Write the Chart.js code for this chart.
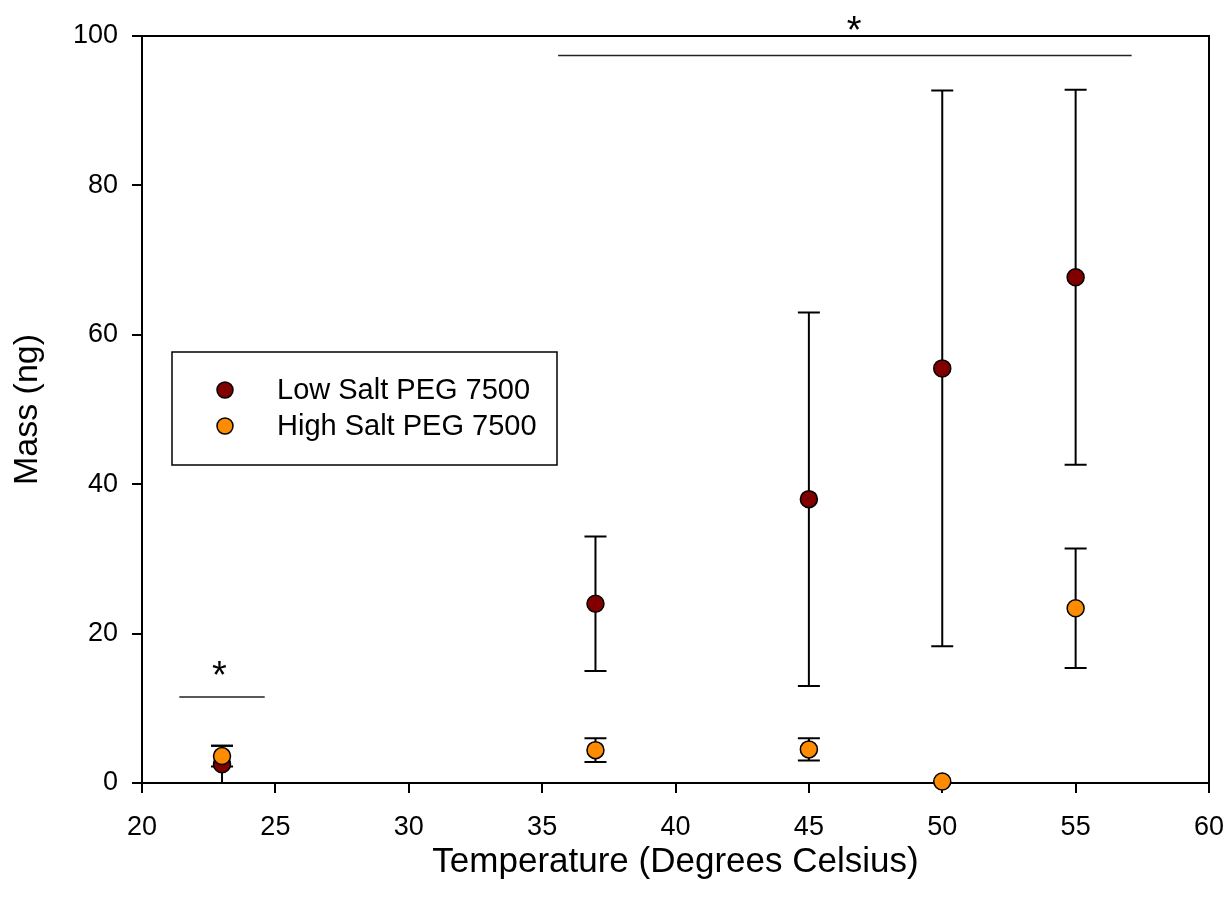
<!DOCTYPE html>
<html><head><meta charset="utf-8">
<script src="https://cdn.jsdelivr.net/npm/chart.js@4/dist/chart.umd.min.js"></script>
<style>html,body{margin:0;padding:0;background:#fff}#wrap{width:1227px;height:911px}</style>
</head><body><div id="wrap"><canvas id="c" width="1227" height="911"></canvas></div>
<script>
const temperatures = [23, 37, 45, 50, 55];
const lowSaltMass = [2.5, 24.0, 38.0, 55.5, 67.7];
const lowSaltErr = [2.5, 9.0, 25.0, 37.2, 25.1];
const highSaltMass = [3.6, 4.4, 4.5, 0.2, 23.4];
const highSaltErr = [1.4, 1.6, 1.5, 0, 8.0];
const seriesNames = ['Low Salt PEG 7500', 'High Salt PEG 7500'];
const xTicks = [20, 25, 30, 35, 40, 45, 50, 55, 60];
const yTicks = [0, 20, 40, 60, 80, 100];
// significance brackets
const sigStart = [21.4, 35.6];
const sigEnd = [24.6, 57.1];
const sigY = [11.5, 97.4];
const sigLabelX = [22.9, 46.7];
const sigLabel = ['*', '*'];

const FONT = "'Liberation Sans', Arial, sans-serif";
const colLow = '#800000', colHigh = '#FF8C00';

const errPlugin = {
  id: 'err',
  beforeDatasetsDraw(chart) {
    const ctx = chart.ctx, xs = chart.scales.x, ys = chart.scales.y;
    ctx.save();
    ctx.strokeStyle = '#000'; ctx.lineWidth = 2;
    const sets = [[lowSaltMass, lowSaltErr], [highSaltMass, highSaltErr]];
    sets.forEach(([m, e]) => {
      temperatures.forEach((t, i) => {
        if (!e[i]) return;
        const px = xs.getPixelForValue(t);
        const top = ys.getPixelForValue(m[i] + e[i]);
        const bot = ys.getPixelForValue(Math.max(0, m[i] - e[i]));
        ctx.beginPath();
        ctx.moveTo(px, top); ctx.lineTo(px, bot);
        ctx.moveTo(px - 11, top); ctx.lineTo(px + 11, top);
        ctx.moveTo(px - 11, bot); ctx.lineTo(px + 11, bot);
        ctx.stroke();
      });
    });
    ctx.restore();
  },
  afterDraw(chart) {
    const ctx = chart.ctx, xs = chart.scales.x, ys = chart.scales.y, a = chart.chartArea;
    ctx.save();
    ctx.strokeStyle = '#000'; ctx.lineWidth = 2;
    ctx.beginPath();
    ctx.moveTo(a.left, a.top); ctx.lineTo(a.right, a.top); ctx.lineTo(a.right, a.bottom);
    ctx.stroke();
    ctx.strokeStyle = '#222'; ctx.lineWidth = 1.5;
    ctx.fillStyle = '#000';
    ctx.font = '38px ' + FONT;
    ctx.textAlign = 'center'; ctx.textBaseline = 'alphabetic';
    sigStart.forEach((s, i) => {
      const x1 = xs.getPixelForValue(s), x2 = xs.getPixelForValue(sigEnd[i]);
      const y = ys.getPixelForValue(sigY[i]);
      ctx.beginPath(); ctx.moveTo(x1, y); ctx.lineTo(x2, y); ctx.stroke();
      const m = ctx.measureText(sigLabel[i]);
      const cy = y - (i === 1 ? 32 : 29);
      const base = cy + (m.actualBoundingBoxAscent - m.actualBoundingBoxDescent) / 2;
      ctx.fillText(sigLabel[i], xs.getPixelForValue(sigLabelX[i]), base);
    });
    const lx = 172, ly = 352, lw = 385, lh = 113;
    ctx.lineWidth = 1.5; ctx.strokeStyle = '#000';
    ctx.strokeRect(lx, ly, lw, lh);
    const cols = [colLow, colHigh];
    ctx.font = '29px ' + FONT; ctx.textAlign = 'left'; ctx.textBaseline = 'middle';
    seriesNames.forEach((n, i) => {
      const cy = 390 + i * 36;
      ctx.beginPath(); ctx.arc(225, cy, 8, 0, Math.PI * 2);
      ctx.fillStyle = cols[i]; ctx.fill();
      ctx.lineWidth = 1.5; ctx.strokeStyle = '#000'; ctx.stroke();
      ctx.fillStyle = '#000';
      ctx.fillText(n, 277, cy + 1);
    });
    ctx.restore();
  }
};

new Chart(document.getElementById('c'), {
  type: 'scatter',
  data: {
    datasets: [
      { label: seriesNames[1], data: temperatures.map((t, i) => ({x: t, y: highSaltMass[i]})),
        backgroundColor: colHigh, borderColor: '#000', borderWidth: 1.5, pointRadius: 8.5, order: 0, clip: false },
      { label: seriesNames[0], data: temperatures.map((t, i) => ({x: t, y: lowSaltMass[i]})),
        backgroundColor: colLow, borderColor: '#000', borderWidth: 1.5, pointRadius: 8.5, order: 1, clip: false }
    ]
  },
  options: {
    responsive: false, animation: false, devicePixelRatio: 1,
    layout: { padding: { left: 0, right: 18, top: 36, bottom: 0 } },
    plugins: { legend: { display: false }, tooltip: { enabled: false } },
    scales: {
      x: {
        type: 'linear', min: 20, max: 60,
        afterBuildTicks: s => { s.ticks = xTicks.map(v => ({value: v})); },
        afterFit: s => { s.height = 128; s.paddingLeft = 0; s.paddingRight = 0; },
        grid: { display: true, drawOnChartArea: false, drawTicks: true, tickLength: 10, color: '#000', lineWidth: 2 },
        border: { display: true, color: '#000', width: 2 },
        ticks: { color: '#000', font: { family: FONT, size: 27 }, padding: 18, maxRotation: 0 },
        title: { display: true, text: 'Temperature (Degrees Celsius)', color: '#000', font: { family: FONT, size: 35 }, padding: { top: 0, bottom: 28 } }
      },
      y: {
        type: 'linear', min: 0, max: 100,
        afterBuildTicks: s => { s.ticks = yTicks.map(v => ({value: v})); },
        afterFit: s => { s.width = 142; s.paddingTop = 0; s.paddingBottom = 0; },
        grid: { display: true, drawOnChartArea: false, drawTicks: true, tickLength: 10, color: '#000', lineWidth: 2 },
        border: { display: true, color: '#000', width: 2 },
        ticks: { color: '#000', font: { family: FONT, size: 27 }, padding: 14 },
        title: { display: true, text: 'Mass (ng)', color: '#000', font: { family: FONT, size: 34 }, padding: { top: 7, bottom: 0 } }
      }
    }
  },
  plugins: [errPlugin]
});
</script></body></html>
